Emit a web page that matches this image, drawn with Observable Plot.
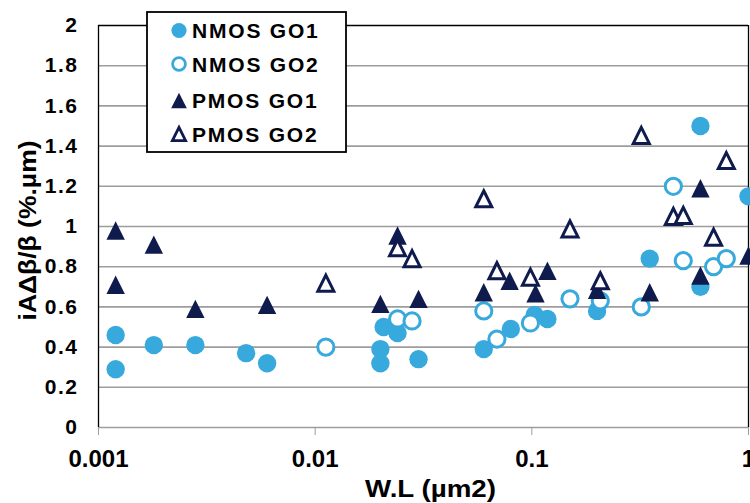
<!DOCTYPE html>
<html>
<head>
<meta charset="utf-8">
<script src="https://cdn.jsdelivr.net/npm/d3@7"></script>
<script src="https://cdn.jsdelivr.net/npm/@observablehq/plot@0.6"></script>
<style>
  html, body { margin: 0; padding: 0; background: #fff; }
  #chart { width: 750px; height: 503px; }
</style>
</head>
<body>
<div id="chart"></div>
<script>
// ---- data ----
const xTicks = [0.001, 0.01, 0.1, 1];
const xTickLabels = ["0.001", "0.01", "0.1", "1"];
const yTicks = [0, 0.2, 0.4, 0.6, 0.8, 1, 1.2, 1.4, 1.6, 1.8, 2];
const yTickLabels = ["0", "0.2", "0.4", "0.6", "0.8", "1", "1.2", "1.4", "1.6", "1.8", "2"];
const xTitle = "W.L (µm2)";
const yTitle = "iAΔβ/β (%.µm)";
const seriesNames = ["NMOS GO1", "NMOS GO2", "PMOS GO1", "PMOS GO2"];

const nmosGo1X = [0.0012, 0.0012, 0.0018, 0.0028, 0.0048, 0.006, 0.02, 0.02, 0.0207, 0.024, 0.03, 0.06, 0.08, 0.103, 0.118, 0.2, 0.35, 0.6, 0.6, 1.0];
const nmosGo1Y = [0.46, 0.29, 0.41, 0.41, 0.37, 0.32, 0.39, 0.32, 0.50, 0.47, 0.34, 0.39, 0.49, 0.56, 0.54, 0.58, 0.84, 1.50, 0.70, 1.15];

const nmosGo2X = [0.0112, 0.024, 0.028, 0.06, 0.069, 0.0985, 0.15, 0.207, 0.32, 0.45, 0.5, 0.69, 0.79];
const nmosGo2Y = [0.40, 0.54, 0.53, 0.58, 0.44, 0.52, 0.64, 0.63, 0.60, 1.20, 0.83, 0.80, 0.84];

const pmosGo1X = [0.0012, 0.0012, 0.0018, 0.0028, 0.006, 0.02, 0.024, 0.03, 0.06, 0.079, 0.104, 0.118, 0.2, 0.35, 0.6, 0.6, 1.0];
const pmosGo1Y = [0.98, 0.71, 0.91, 0.59, 0.61, 0.615, 0.955, 0.64, 0.673, 0.73, 0.668, 0.78, 0.685, 0.673, 1.19, 0.756, 0.856];

const pmosGo2X = [0.0112, 0.024, 0.028, 0.06, 0.069, 0.0985, 0.15, 0.207, 0.32, 0.45, 0.5, 0.69, 0.79];
const pmosGo2Y = [0.718, 0.894, 0.84, 1.138, 0.78, 0.748, 0.988, 0.73, 1.453, 1.05, 1.055, 0.947, 1.328];

// ---- styles ----
const lightBlue = "#38a9dc";
const navy = "#0f1b4c";
const gridColor = "#9d9d9d";
const font = "'Liberation Sans', Arial, Helvetica, sans-serif";

const toRows = (xs, ys) => xs.map((x, i) => ({x, y: ys[i]}));
const nG1 = toRows(nmosGo1X, nmosGo1Y);
const nG2 = toRows(nmosGo2X, nmosGo2Y);
const pG1 = toRows(pmosGo1X, pmosGo1Y);
const pG2 = toRows(pmosGo2X, pmosGo2Y);

// triangle centred on its bounding box (like Excel markers)
const tri = {
  draw(context, size) {
    const h = Math.sqrt(size / Math.PI);
    context.moveTo(0, -h);
    context.lineTo(h, h);
    context.lineTo(-h, h);
    context.closePath();
  }
};

const xFmt = d => xTickLabels[xTicks.findIndex(t => Math.abs(t - d) < 1e-9)];
const yFmt = d => yTickLabels[yTicks.findIndex(t => Math.abs(t - d) < 1e-9)];

const chart = Plot.plot({
  width: 750,
  height: 503,
  marginLeft: 98,
  marginRight: 2,
  marginTop: 25,
  marginBottom: 76,
  style: {fontFamily: font, background: "white", overflow: "visible"},
  x: {type: "log", domain: [0.001, 1]},
  y: {domain: [0, 2]},
  marks: [
    Plot.ruleY(yTicks.filter(d => d < 2), {stroke: gridColor, strokeWidth: 1.6}),
    Plot.ruleY([2], {stroke: "black", strokeWidth: 1.3}),
    Plot.ruleX([0.001, 1], {stroke: "black", strokeWidth: 1.3}),
    Plot.axisX(xTicks, {
      tickFormat: xFmt,
      tickSize: 8, tickPadding: 14, stroke: gridColor, fill: "black",
      fontSize: 24, fontWeight: "bold", label: null
    }),
    Plot.axisY(yTicks, {
      tickFormat: yFmt,
      tickSize: 0, tickPadding: 20, fill: "black",
      fontSize: 21, fontWeight: "bold", label: null
    }),
    Plot.text([xTitle], {
      frameAnchor: "bottom", lineAnchor: "middle", textAnchor: "middle",
      dy: 62, dx: 7, fontSize: 24, fontWeight: "bold", fill: "black"
    }),
    Plot.text([yTitle], {
      frameAnchor: "left", lineAnchor: "middle", textAnchor: "middle", rotate: -90,
      dx: -70, dy: 4, fontSize: 23, fontWeight: "bold", fill: "black"
    }),
    Plot.dot(nG1, {x: "x", y: "y", r: 9.2, fill: lightBlue, stroke: "none"}),
    Plot.dot(nG2, {x: "x", y: "y", r: 8.1, fill: "white", stroke: lightBlue, strokeWidth: 3}),
    Plot.dot(pG1, {x: "x", y: "y", r: 9.2, symbol: tri, fill: navy, stroke: "none"}),
    Plot.dot(pG2, {x: "x", y: "y", r: 8, symbol: tri, fill: "white", stroke: navy, strokeWidth: 3, strokeLinejoin: "miter"})
  ]
});

document.getElementById("chart").appendChild(chart);

const svg = d3.select(chart);
svg.selectAll("g[aria-label='y-axis tick label'] text").attr("letter-spacing", "1.5px");
svg.selectAll("g[aria-label='text'] text").each(function () {
  const t = d3.select(this);
  if (this.textContent === yTitle) t.attr("textLength", 180).attr("lengthAdjust", "spacingAndGlyphs");
  if (this.textContent === xTitle) t.attr("textLength", 131).attr("lengthAdjust", "spacingAndGlyphs");
});

// ---- legend (inside the svg, top-left) ----
const lg = svg.append("g").attr("font-family", font).attr("font-weight", "bold")
  .attr("font-size", 21).attr("text-anchor", "start");
lg.append("rect").attr("x", 147).attr("y", 12).attr("width", 199).attr("height", 140)
  .attr("fill", "white").attr("stroke", "black").attr("stroke-width", 1.8);
const rowsY = [30.5, 64, 100.5, 134];
const triPath = h => `M0,${-h}L${h},${h}L${-h},${h}Z`;
seriesNames.forEach((name, i) => {
  const g = lg.append("g").attr("transform", `translate(179,${rowsY[i]})`);
  if (i === 0) g.append("circle").attr("r", 7.6).attr("fill", lightBlue);
  if (i === 1) g.append("circle").attr("r", 6.4).attr("fill", "white").attr("stroke", lightBlue).attr("stroke-width", 2.8);
  if (i === 2) g.append("path").attr("d", triPath(7.8)).attr("fill", navy);
  if (i === 3) g.append("path").attr("d", triPath(6.6)).attr("fill", "white").attr("stroke", navy).attr("stroke-width", 2.8);
  lg.append("text").attr("x", 192).attr("y", rowsY[i] + 7.7).attr("letter-spacing", "1.8px")
    .attr("text-anchor", "start").attr("fill", "black").text(name);
});
</script>
</body>
</html>
